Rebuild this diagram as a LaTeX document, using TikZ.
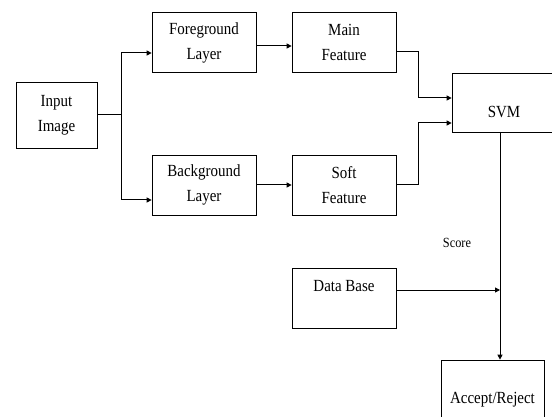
\documentclass[tikz,border=0pt]{standalone}
\usepackage{fontspec}
\setmainfont{Liberation Serif}[FakeStretch=0.88]
\usetikzlibrary{arrows.meta}

\begin{document}
\begin{tikzpicture}[x=1pt,y=-1pt,
			mybox/.style={draw,line width=.7pt,inner sep=0pt,align=center,
				minimum width=104pt,minimum height=60pt,font=\fontsize{17}{25}\selectfont},
			myarr/.style={line width=1pt,-{Triangle[length=5pt,width=5pt]}},
			myline/.style={line width=1pt}
			]
			\useasboundingbox (0,0) rectangle (552,417);
			\node[mybox, minimum width=81pt, minimum height=66pt] (in) at (56.5,115) {Input\\Image};
			\node[mybox] (fg) at (204,42.5) {Foreground\\Layer};
			\node[mybox] (bg) at (204,185) {Background\\Layer};
			\node[mybox] (mf) at (344,42.5) {Main\\Feature};
			\node[mybox] (sf) at (344,185) {Soft\\Feature};
			%%%%%%%%%%%%%%%5
			\node[mybox, minimum height=59pt, text height=30pt, text depth=0pt] (svm) at (504,102.5) {SVM};
			\node[mybox] (db) at (344,298) {Data Base\\\mbox{}};
			\node[mybox, minimum width=103pt, minimum height=80pt] (acc) at (492.5,400) {Accept/Reject};
			\node[font=\fontsize{14}{16}\selectfont] (sc) at (457,243) {Score};
			%%%%%%%%%%%%%%%5
			\coordinate (sp) at (121,115);
			\coordinate (j1) at (418,52);
			\coordinate (j2) at (418,98);
			\coordinate (j3) at (418,185);
			\coordinate (j4) at (418,123);
			\coordinate (vt) at (500,132);
			\coordinate (d1) at (500,290);
			\draw[myline] (in.east) -- (sp);
			\draw[myarr] (sp) |- ([yshift=-10.5pt]fg.west);
			\draw[myarr] (sp) |- ([yshift=-15pt]bg.west);
			\draw[myarr] ([yshift=-3.5pt]fg.east) -- ([yshift=-3.5pt]mf.west);
			\draw[myarr] (bg.east) -- (sf.west);
			\draw[myarr] (j1 -| mf.east) -- (j1) -- (j2) -- (j2 -| svm.west);
			\draw[myarr] (sf.east) -- (j3) -- (j4) -- (j4 -| svm.west);
			\draw[myarr] (vt) -- (vt |- acc.north);
			\draw[myarr] (d1 -| db.east) -- (d1);
		\end{tikzpicture}
\end{document}
